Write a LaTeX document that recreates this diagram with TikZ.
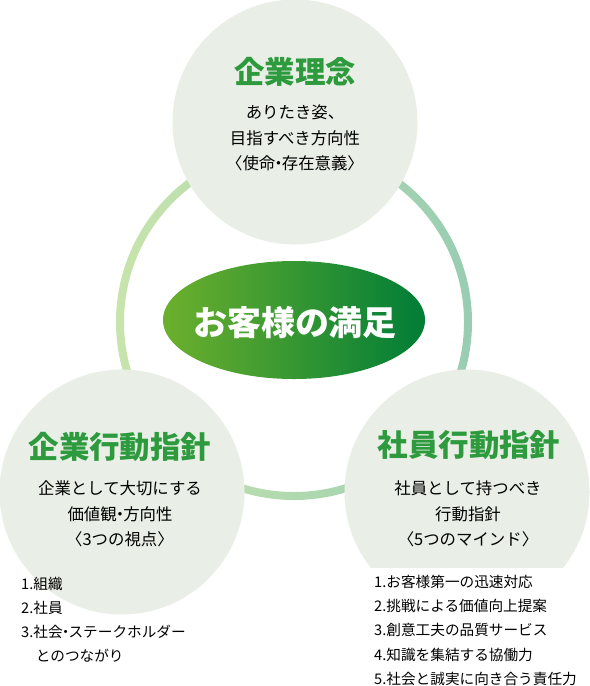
\documentclass[tikz,border=0pt]{standalone}
\usepackage{fontspec}
\setmainfont{Noto Sans CJK JP}
\usepackage{xcolor}
\usetikzlibrary{shapes.geometric}

\definecolor{circlefill}{RGB}{233,239,230}
\definecolor{headgreen}{RGB}{46,154,62}
\definecolor{ringleft}{RGB}{200,228,172}
\definecolor{ringright}{RGB}{152,205,178}
\definecolor{coreleft}{RGB}{108,176,45}
\definecolor{coremid}{RGB}{30,155,60}
\definecolor{coreright}{RGB}{0,125,55}

% narrow middle dot
\newcommand{\nakaten}{\kern-0.3em・\kern-0.3em}

\begin{document}
\begin{tikzpicture}[x=0.03cm, y=-0.03cm,
    pillar/.style={circle, fill=circlefill, minimum size=7.35cm, inner sep=0pt},
    core/.style={ellipse, left color=coreleft, middle color=coremid, right color=coreright, minimum width=7.86cm, minimum height=3.54cm, inner sep=0pt},
    coretext/.style={text=white, font=\fontsize{29}{34}\selectfont\bfseries, inner sep=0pt},
    heading/.style={text=headgreen, font=\fontsize{26}{30}\selectfont\bfseries, inner sep=0pt},
    body/.style={align=center, font=\fontsize{14}{22}\selectfont, inner sep=0pt},
    itemlist/.style={align=left, anchor=north west, font=\fontsize{12.5}{20.6}\selectfont, inner sep=0pt}
  ]
    \useasboundingbox (0,0) rectangle (590,686);

    % outer ring behind the three circles
    \shade[left color=ringleft, right color=ringright, even odd rule]
      (294,322) circle (5.34cm) (294,322) circle (5.1cm);

    \node (rinen) [pillar] at (295,122) {};
    \node (kigyo) [pillar] at (122,492) {};
    \begin{scope}
      \clip (330,0) rectangle (590,567);
      \node (shain) [pillar] at (467,492) {};
    \end{scope}

    \node (manzoku) [core] at (294,320) {};
    \node (manzoku_text) [coretext] at (295,323) {お客様の満足};

    % top
    \node (rinen_title) [heading] at (295,72) {企業理念};
    \node (rinen_text) [body] at (295,138) {ありたき姿、\\目指すべき方向性\\〈使命\nakaten 存在意義〉};

    % left
    \node (kigyo_title) [heading] at (120,447) {企業行動指針};
    \node (kigyo_text) [body] at (120,514) {企業として大切にする\\価値観\nakaten 方向性\\〈3つの視点〉};
    \node (kigyo_list) [itemlist] at (21,577) {1.組織\\2.社員\\3.社会\nakaten ステークホルダー\\\hspace{1em}とのつながり};

    % right
    \node (shain_title) [heading] at (469,445) {社員行動指針};
    \node (shain_text) [body] at (468,514) {社員として持つべき\\行動指針\\〈5つのマインド〉};
    \node (shain_list) [itemlist] at (374,575) {1.お客様第一の迅速対応\\2.挑戦による価値向上提案\\3.創意工夫の品質サービス\\4.知識を集結する協働力\\5.社会と誠実に向き合う責任力};

  \end{tikzpicture}
\end{document}
